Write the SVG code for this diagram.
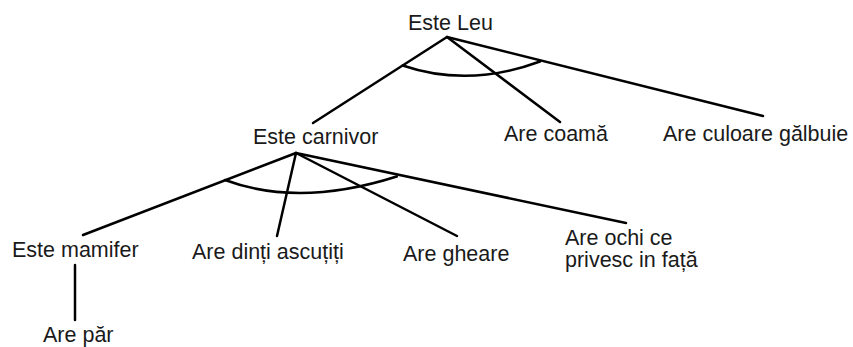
<svg xmlns="http://www.w3.org/2000/svg" width="853" height="347" viewBox="0 0 853 347">
  <style>
    .lbl { font-family: "Liberation Sans", Arial, sans-serif; font-size: 21.5px; fill: #1a1a1a; }
    .ln { stroke: #000; stroke-width: 2.5; fill: none; stroke-linecap: round; }
  </style>
  <rect width="853" height="347" fill="#fff"/>
  <g id="connectors">
    <!-- Este Leu branches -->
    <line class="ln" x1="447" y1="37" x2="313" y2="123"/>
    <line class="ln" x1="447" y1="37" x2="560" y2="122"/>
    <line class="ln" x1="447" y1="37" x2="763" y2="116"/>
    <path class="ln" d="M402.7,65.5 Q468.6,88 540,61.5"/>
    <!-- Este carnivor branches -->
    <line class="ln" x1="296" y1="153" x2="83" y2="235"/>
    <line class="ln" x1="296" y1="153" x2="277" y2="236"/>
    <line class="ln" x1="296" y1="153" x2="457" y2="236"/>
    <line class="ln" x1="296" y1="153" x2="626" y2="223"/>
    <path class="ln" d="M225,180 Q299,207.6 396.7,176.5"/>
    <!-- Este mamifer to Are păr -->
    <line class="ln" x1="75" y1="265" x2="75" y2="320"/>
  </g>
  <g id="este-leu"><text class="lbl" x="408" y="30">Este Leu</text></g>
  <g id="este-carnivor"><text class="lbl" x="253" y="144">Este carnivor</text></g>
  <g id="are-coama"><text class="lbl" x="504" y="141">Are coamă</text></g>
  <g id="are-culoare"><text class="lbl" x="663" y="141">Are culoare gălbuie</text></g>
  <g id="este-mamifer"><text class="lbl" x="12" y="257">Este mamifer</text></g>
  <g id="are-dinti"><text class="lbl" x="192" y="259">Are dinți ascuțiți</text></g>
  <g id="are-gheare"><text class="lbl" x="403" y="261">Are gheare</text></g>
  <g id="are-ochi"><text class="lbl" x="565" y="245">Are ochi ce<tspan x="565" y="267">privesc in față</tspan></text></g>
  <g id="are-par"><text class="lbl" x="43" y="342">Are păr</text></g>
</svg>
